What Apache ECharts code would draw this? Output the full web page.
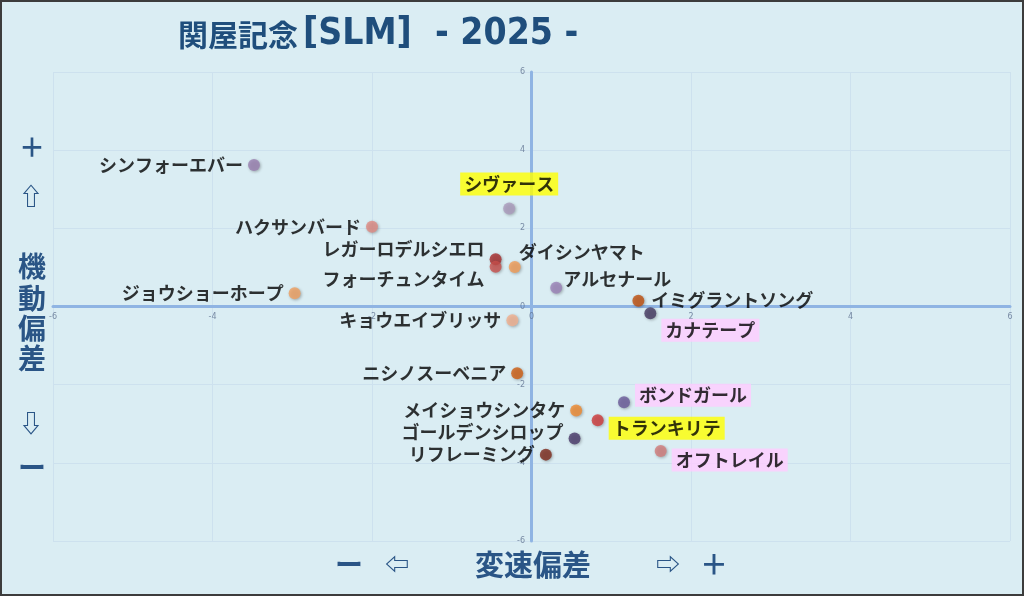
<!DOCTYPE html>
<html>
<head>
<meta charset="utf-8">
<script src="https://cdn.jsdelivr.net/npm/echarts@6/dist/echarts.min.js"></script>
<style>
  html, body { margin: 0; padding: 0; background: #ffffff; }
  #chart { width: 1024px; height: 596px; }
</style>
</head>
<body>
<div id="chart"></div>
<script>
// horses, speed deviation (x) and mobility deviation (y)
const horseNames = ['シンフォーエバー', 'ハクサンバード', 'シヴァース', 'レガーロデルシエロ', 'フォーチュンタイム',
  'ダイシンヤマト', 'アルセナール', 'イミグラントソング', 'カナテープ', 'キョウエイブリッサ', 'ジョウショーホープ',
  'ニシノスーベニア', 'ボンドガール', 'メイショウシンタケ', 'トランキリテ', 'ゴールデンシロップ', 'リフレーミング', 'オフトレイル'];
const speedDev = [-3.48, -2.00, -0.28, -0.45, -0.45, -0.21, 0.31, 1.34, 1.49, -0.24, -2.97,
  -0.18, 1.16, 0.56, 0.83, 0.54, 0.18, 1.62];
const mobilityDev = [3.62, 2.04, 2.51, 1.21, 1.02, 1.01, 0.48, 0.15, -0.17, -0.35, 0.34,
  -1.71, -2.45, -2.66, -2.91, -3.38, -3.79, -3.70];
const axisTicks = [-6, -4, -2, 0, 2, 4, 6];

// marker colours and label placement (style only)
const dotColors = ['#9a80b0', '#e08a82', '#ab9bbd', '#a82c2c', '#c9504c', '#f29c56', '#9b82b8', '#c0500e', '#463a62',
  '#f2b08e', '#f0a060', '#cf5e10', '#6a5a9a', '#f08a2e', '#d03a3a', '#4a3a6a', '#7e2a1c', '#d27c7a'];
const labelPlace = [
  ['left', [0, 0]], ['left', [0, 0]], ['top', [0, -2]], ['left', [0, -10]], ['left', [0, 13]],
  ['right', [-7, -15]], ['right', [-4, -9]], ['right', [2, 0]], ['right', [0, 17]], ['left', [0, 0]],
  ['left', [0, 0]], ['left', [0, 0]], ['right', [0, -7]], ['left', [0, 0]], ['right', [0, 8]],
  ['left', [0, -6]], ['left', [0, 0]], ['right', [0, 9]]
];
const yellowMark = ['シヴァース', 'トランキリテ'];
const pinkMark = ['カナテープ', 'ボンドガール', 'オフトレイル'];

const titleColor = '#1f4e7c';
const nameColor = '#2a5586';
const tickColor = '#5f7290';

const chart = echarts.init(document.getElementById('chart'));

const points = horseNames.map((name, i) => {
  let bg = 'transparent';
  if (yellowMark.includes(name)) bg = '#ffff00';
  if (pinkMark.includes(name)) bg = '#ffccff';
  return {
    name: name,
    value: [speedDev[i], mobilityDev[i]],
    itemStyle: { color: dotColors[i] },
    label: {
      position: labelPlace[i][0],
      offset: labelPlace[i][1],
      backgroundColor: bg,
      padding: bg === 'transparent' ? 0 : [3, 4, 2, 4]
    }
  };
});

// tick labels sit on the zero lines, so they are drawn as label-only points
const xTickPoints = axisTicks.map(v => ({ value: [v, 0], label: { formatter: String(v) } }));
const yTickPoints = axisTicks.map(v => ({ value: [0, v], label: { formatter: String(v) } }));

function sideText(text, x, y, size) {
  return {
    type: 'text', x: x, y: y,
    style: {
      text: text, fill: nameColor, fontSize: size, fontWeight: 'bold',
      fontFamily: 'Noto Sans CJK JP', align: 'center', verticalAlign: 'middle'
    }
  };
}

const tickLabelStyle = {
  show: true, fontSize: 8, color: tickColor, fontFamily: 'DejaVu Sans'
};

const option = {
  backgroundColor: '#daedf3',
  title: {
    text: '{k|関屋記念} {l|[SLM]  - 2025 -}',
    left: 173, top: 11,
    textStyle: {
      rich: {
        k: { color: titleColor, fontSize: 30, fontWeight: 'bold', fontFamily: 'Noto Sans CJK JP', verticalAlign: 'middle' },
        l: { color: titleColor, fontSize: 37, fontWeight: 'bold', fontFamily: 'DejaVu Sans Condensed', verticalAlign: 'middle' }
      }
    }
  },
  grid: { left: 53, right: 14, top: 72, bottom: 55 },
  xAxis: {
    type: 'value', min: -6, max: 6, interval: 2,
    axisLine: { onZero: true, lineStyle: { color: '#8fb4e3', width: 3 } },
    axisTick: { show: false },
    axisLabel: { show: false },
    splitLine: { lineStyle: { color: '#cde1ee', width: 1 } }
  },
  yAxis: {
    type: 'value', min: -6, max: 6, interval: 2,
    axisLine: { onZero: true, lineStyle: { color: '#8fb4e3', width: 3 } },
    axisTick: { show: false },
    axisLabel: { show: false },
    splitLine: { lineStyle: { color: '#cde1ee', width: 1 } }
  },
  series: [
    {
      type: 'scatter', symbolSize: 1, silent: true, z: 1,
      itemStyle: { color: 'rgba(0,0,0,0)' },
      data: xTickPoints,
      label: Object.assign({ position: 'bottom', distance: 6 }, tickLabelStyle)
    },
    {
      type: 'scatter', symbolSize: 1, silent: true, z: 1,
      itemStyle: { color: 'rgba(0,0,0,0)' },
      data: yTickPoints,
      label: Object.assign({ position: 'left', distance: 6 }, tickLabelStyle)
    },
    {
      type: 'scatter',
      symbolSize: 12,
      z: 3,
      data: points,
      itemStyle: {
        shadowBlur: 3, shadowColor: 'rgba(0,0,0,0.35)', shadowOffsetX: 1, shadowOffsetY: 1
      },
      label: {
        show: true,
        formatter: '{b}',
        color: '#000000',
        fontSize: 18,
        fontWeight: 'bold',
        fontFamily: 'Noto Sans CJK JP',
        distance: 5
      },
      emphasis: { disabled: true }
    }
  ],
  graphic: [
    sideText('＋', 32, 147, 26),
    sideText('⇧', 31, 196, 24),
    sideText('機', 32, 266, 28),
    sideText('動', 32, 298, 28),
    sideText('偏', 32, 328, 28),
    sideText('差', 32, 358, 28),
    sideText('⇩', 31, 423, 24),
    sideText('ー', 32, 467, 28),
    sideText('ー', 349, 564, 28),
    sideText('⇦', 397, 564, 24),
    sideText('変速偏差', 533, 565, 29),
    sideText('⇨', 668, 564, 24),
    sideText('＋', 714, 564, 28),
    {
      type: 'rect', silent: true,
      shape: { x: 1, y: 1, width: 1022, height: 594 },
      style: { fill: 'none', stroke: '#3c3c3c', lineWidth: 2 }
    }
  ]
};

chart.setOption(option);
</script>
</body>
</html>
